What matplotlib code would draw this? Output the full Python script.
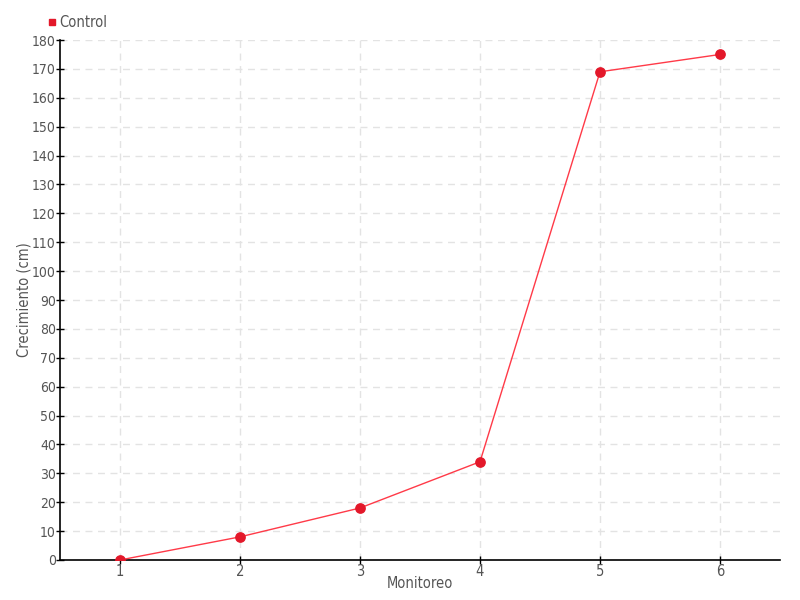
import matplotlib
matplotlib.use("Agg")
import matplotlib.pyplot as plt
from matplotlib.lines import Line2D

monitoreo = [1, 2, 3, 4, 5, 6]
control = [0, 8, 18, 34, 169, 175]
series_name = "Control"
x_label = "Monitoreo"
y_label = "Crecimiento (cm)"

plt.rcParams['font.family'] = ['DejaVu Sans']
plt.rcParams['font.stretch'] = 'condensed'

FS = 10.5

fig = plt.figure(figsize=(8, 6), dpi=100)
ax = fig.add_axes([0.075, 0.0667, 0.9, 0.8666])

ax.plot(monitoreo, control, color="#ff3a48", lw=1, zorder=3)
ax.scatter(monitoreo, control, s=45, color="#e3182a", zorder=4)

ax.set_xlim(0.5, 6.5)
ax.set_ylim(0, 180)
ax.set_xticks(monitoreo)
ax.set_yticks(range(0, 181, 10))
ax.grid(True, color="#e3e3e3", linestyle=(0, (5, 4)), lw=1)
ax.set_axisbelow(True)
for s in ["top", "right"]:
    ax.spines[s].set_visible(False)
for s in ["left", "bottom"]:
    ax.spines[s].set_color("black")
    ax.spines[s].set_linewidth(1.2)
ax.tick_params(direction="inout", length=6, width=1, colors="black",
               labelcolor="#555555", labelsize=FS, pad=0)
ax.tick_params(axis="y", labelsize=10, pad=0)
ax.set_xlabel(x_label, color="#555555", fontsize=FS, labelpad=-2)
ax.set_ylabel(y_label, color="#555555", fontsize=FS, labelpad=0.5)

handle = Line2D([], [], marker="s", color="#e3182a", linestyle="none", markersize=5)
fig.legend([handle], [series_name], loc="upper left", bbox_to_anchor=(0.048, 0.985),
           frameon=False, handletextpad=0.0, fontsize=FS, labelcolor="#555555",
           handlelength=1.0, borderaxespad=0)

fig.savefig("out.png", dpi=100)
